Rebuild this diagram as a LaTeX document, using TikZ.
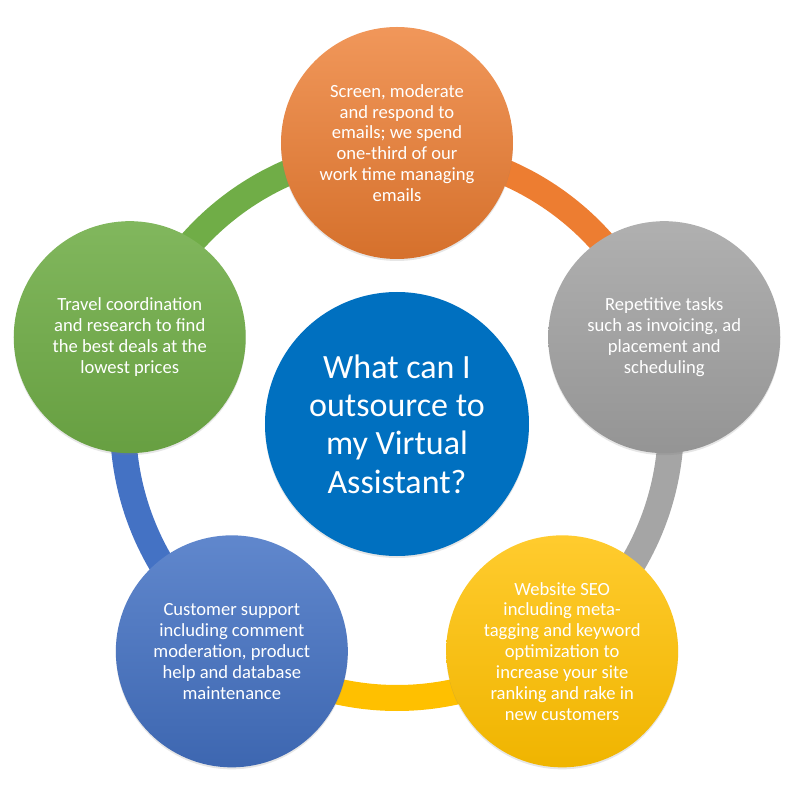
\documentclass[tikz,border=0pt]{standalone}
\usepackage{fontspec}
\setmainfont{Carlito}
\usetikzlibrary{shadows}
\definecolor{vaorange}{HTML}{ED7D31}
\definecolor{vagray}{HTML}{A5A5A5}
\definecolor{vayellow}{HTML}{FFC000}
\definecolor{vablue}{HTML}{4472C4}
\definecolor{vagreen}{HTML}{70AD47}
\definecolor{vahub}{HTML}{0070C0}
\tikzset{item node/.style={circle,minimum size=232pt,inner sep=0pt,align=center,text=white,
    font=\fontsize{18.6}{20.9}\selectfont,
    drop shadow={opacity=0.2,shadow xshift=0pt,shadow yshift=-2pt}},
  hub node/.style={circle,fill=vahub,minimum size=264pt,inner sep=0pt,align=center,text=white,
    font=\fontsize{34}{38.3}\selectfont,
    drop shadow={opacity=0.2,shadow xshift=0pt,shadow yshift=-2pt}},
  ring/.style={line width=26pt},
}

\begin{document}
\begin{tikzpicture}[x=1pt,y=1pt]
	\useasboundingbox (-397,-376) rectangle (403,424);
	\coordinate (o) at (0,0);
	\foreach \a/\n in {90/1,18/2,-54/3,-126/4,162/5}
		\coordinate (r\n) at (\a:274);
	
	% ring, each part takes the colour of the circle it leaves
	\draw[ring,vaorange] (r1) arc[start angle=90,end angle=18,radius=274];
	\draw[ring,vagray] (r2) arc[start angle=18,end angle=-54,radius=274];
	\draw[ring,vayellow] (r3) arc[start angle=-54,end angle=-126,radius=274];
	\draw[ring,vablue] (r4) arc[start angle=-126,end angle=-198,radius=274];
	\draw[ring,vagreen] (r5) arc[start angle=162,end angle=90,radius=274];
	
	\node[hub node] (hub) at (o) {What can I\\outsource to\\my Virtual\\Assistant?};
	
	\node[item node,top color=vaorange!80!white,bottom color=vaorange!90!black] (email) at (90:281)
		{Screen, moderate\\and respond to\\emails; we spend\\one-third of our\\work time managing\\emails};
	\node[item node,top color=vagray!88!white,bottom color=vagray!90!black] (tasks) at (18:281)
		{Repetitive tasks\\such as invoicing, ad\\placement and\\scheduling};
	\node[item node,top color=vayellow!82!white,bottom color=vayellow!94!black] (seo) at (-54:281)
		{Website SEO\\including meta-\\tagging and keyword\\optimization to\\increase your site\\ranking and rake in\\new customers};
	\node[item node,top color=vablue!85!white,bottom color=vablue!90!black] (support) at (-126:281)
		{Customer support\\including comment\\moderation, product\\help and database\\maintenance};
	\node[item node,top color=vagreen!88!white,bottom color=vagreen!92!black] (travel) at (162:281)
		{Travel coordination\\and research to find\\the best deals at the\\lowest prices};
\end{tikzpicture}
\end{document}
